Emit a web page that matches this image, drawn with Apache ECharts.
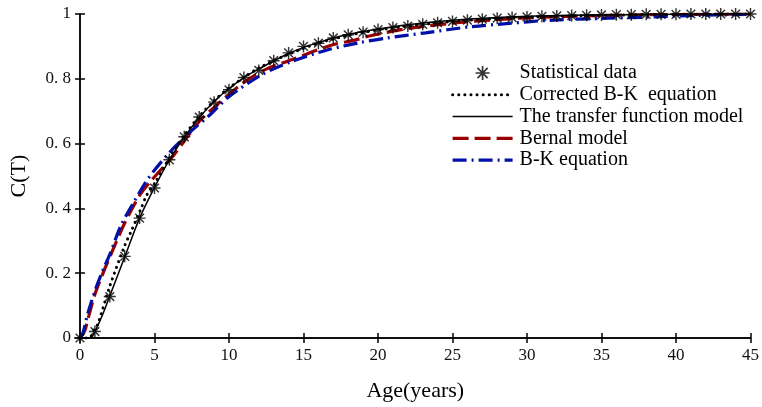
<!DOCTYPE html>
<html>
<head>
<meta charset="utf-8">
<script src="https://cdn.jsdelivr.net/npm/echarts@6/dist/echarts.min.js"></script>
<style>html,body{margin:0;padding:0;background:#fff;}#c{width:762px;height:407px;}</style>
</head>
<body>
<div id="c"></div>
<script>
// ---- data ----
var xTicks = [0, 5, 10, 15, 20, 25, 30, 35, 40, 45];
var yTickLabels = ['0', '0. 2', '0. 4', '0. 6', '0. 8', '1'];
var legendNames = ['Statistical data', 'Corrected B-K  equation', 'The transfer function model', 'Bernal model', 'B-K equation'];

var statAge = [0,1,2,3,4,5,6,7,8,9,10,11,12,13,14,15,16,17,18,19,20,21,22,23,24,25,26,27,28,29,30,31,32,33,34,35,36,37,38,39,40,41,42,43,44,45];
var statC = [0,0.02,0.128,0.252,0.37,0.463,0.55,0.621,0.682,0.728,0.766,0.804,0.826,0.856,0.88,0.9,0.91,0.926,0.936,0.944,0.952,0.958,0.963,0.968,0.973,0.977,0.981,0.984,0.987,0.989,0.991,0.993,0.994,0.995,0.996,0.997,0.998,0.998,0.999,0.999,0.999,1,1,1,1,1];

var corrAge = [0,0.6,1,1.2,2,3,3.4,4.1,4.5,5,6,7,8,9,10,12,14,16,18,20,25,30,35,40,45];
var corrC = [0,0,0.03,0.043,0.16,0.285,0.326,0.40,0.443,0.476,0.556,0.625,0.684,0.732,0.772,0.833,0.876,0.91,0.934,0.951,0.977,0.99,0.996,0.999,1];

var tfAge = [0,0.7,1,1.5,2,3,4,5,6,7,8,9,10,11,12,13,14,15,16,17,18,19,20,22,24,26,28,30,33,36,40,45];
var tfC = [0,0,0.02,0.07,0.13,0.25,0.37,0.465,0.55,0.62,0.68,0.73,0.77,0.804,0.83,0.855,0.878,0.897,0.912,0.926,0.937,0.946,0.954,0.967,0.977,0.984,0.989,0.993,0.996,0.998,0.999,1];

var bernalAge = [0,0.3,0.6,1,1.5,2,3,4,4.75,6.3,8,9.4,11,12.5,14.3,16.8,18.5,19.5,22,25.5,29.5,33,37,41,45];
var bernalC = [0,0.02,0.07,0.135,0.195,0.25,0.355,0.44,0.484,0.565,0.668,0.728,0.789,0.83,0.86,0.903,0.92,0.933,0.955,0.974,0.987,0.993,0.997,0.999,1];

var bkAge = [0,0.2,0.5,1,1.5,2,2.75,3.6,4.6,6,7.4,8.8,10,12.3,14.3,16.6,18.8,20.6,23.2,26.1,28.8,31.3,35.5,38,41,45];
var bkC = [0,0.016,0.072,0.145,0.205,0.258,0.347,0.418,0.494,0.572,0.636,0.692,0.745,0.815,0.855,0.889,0.912,0.926,0.942,0.96,0.971,0.98,0.987,0.99,0.995,0.999];

function pairs(a, b) { return a.map(function (v, i) { return [v, b[i]]; }); }

var FONT = "'Liberation Serif','Times New Roman',serif";
var STAR = 'path://M8.8,0 L11.2,0 L11.2,20 L8.8,20 Z M0,8.8 L20,8.8 L20,11.2 L0,11.2 Z M1.9,3.6 L3.6,1.9 L18.1,16.4 L16.4,18.1 Z M16.4,1.9 L18.1,3.6 L3.6,18.1 L1.9,16.4 Z';

var RED = '#9a0000', BLUE = '#0010a8';
var corrStyle = {color: '#000', width: 3, type: [0.1, 6], cap: 'round'};
var tfStyle = {color: '#000', width: 1.5, type: 'solid'};
var bernalStyle = {color: RED, width: 3.2, type: [16, 6]};
var bkStyle = {color: BLUE, width: 3.2, type: [14, 5, 2, 5]};

var chart = echarts.init(document.getElementById('c'), null, {renderer: 'canvas'});
var axisLine = {show: true, lineStyle: {color: '#000', width: 1.5}};
var tick = {show: true, inside: true, length: 5, lineStyle: {color: '#000', width: 1.5}};
var hideSym = {opacity: 0};

chart.setOption({
  animation: false,
  backgroundColor: '#fff',
  grid: {left: 79, right: 10, top: 14, bottom: 65, containLabel: false},
  legend: {
    orient: 'vertical', left: 451, top: 63, padding: 0,
    itemWidth: 60, itemHeight: 14, itemGap: 1.8,
    data: [
      {name: legendNames[0]},
      {name: legendNames[1], itemStyle: hideSym, lineStyle: corrStyle},
      {name: legendNames[2], itemStyle: hideSym, lineStyle: tfStyle},
      {name: legendNames[3], itemStyle: hideSym, lineStyle: bernalStyle},
      {name: legendNames[4], itemStyle: hideSym, lineStyle: bkStyle}
    ],
    textStyle: {fontFamily: FONT, fontSize: 20, color: '#000', padding: [0, 0, 0, 2]}
  },
  xAxis: [{
    type: 'value', min: 0, max: 45, interval: 5,
    axisLine: axisLine, axisTick: tick, splitLine: {show: false},
    axisLabel: {margin: 9, fontFamily: FONT, fontSize: 17, color: '#111',
      formatter: function (v) { return xTicks.indexOf(v) >= 0 ? String(v) : ''; }},
    name: 'Age(years)', nameLocation: 'middle', nameGap: 42,
    nameTextStyle: {fontFamily: FONT, fontSize: 22, color: '#000'}
  }, {
    type: 'value', min: 0, max: 45, interval: 5, position: 'top',
    axisLine: axisLine, axisTick: tick, axisLabel: {show: false}, splitLine: {show: false}
  }],
  yAxis: [{
    type: 'value', min: 0, max: 1, interval: 0.2,
    axisLine: axisLine, axisTick: tick, splitLine: {show: false},
    axisLabel: {margin: 9, fontFamily: FONT, fontSize: 17, color: '#111',
      formatter: function (v) { return yTickLabels[Math.round(v / 0.2)]; }},
    name: 'C(T)', nameLocation: 'middle', nameGap: 50, nameRotate: 90,
    nameTextStyle: {fontFamily: FONT, fontSize: 22, color: '#000'}
  }, {
    type: 'value', min: 0, max: 1, interval: 0.2, position: 'right',
    axisLine: axisLine, axisTick: tick, axisLabel: {show: false}, splitLine: {show: false}
  }],
  series: [{
    name: legendNames[0], type: 'scatter', data: pairs(statAge, statC),
    symbol: STAR, symbolSize: 12, itemStyle: {color: '#000'}, z: 5
  }, {
    name: legendNames[1], type: 'line', data: pairs(corrAge, corrC), smooth: 0.3,
    symbol: 'none', itemStyle: {color: '#000'}, lineStyle: corrStyle, z: 3
  }, {
    name: legendNames[2], type: 'line', data: pairs(tfAge, tfC), smooth: 0.3,
    symbol: 'none', itemStyle: {color: '#000'}, lineStyle: tfStyle, z: 4
  }, {
    name: legendNames[3], type: 'line', data: pairs(bernalAge, bernalC), smooth: 0.3,
    symbol: 'none', itemStyle: {color: RED}, lineStyle: bernalStyle, z: 2
  }, {
    name: legendNames[4], type: 'line', data: pairs(bkAge, bkC), smooth: 0.3,
    symbol: 'none', itemStyle: {color: BLUE}, lineStyle: bkStyle, z: 2
  }]
});
</script>
</body>
</html>
